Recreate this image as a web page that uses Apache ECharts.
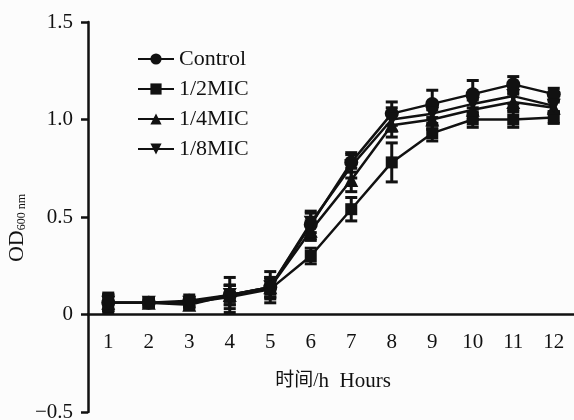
<!DOCTYPE html>
<html>
<head>
<meta charset="utf-8">
<script src="https://cdn.jsdelivr.net/npm/echarts@6/dist/echarts.min.js"></script>
<style>html,body{margin:0;padding:0;background:#fcfcfc;}#c{width:574px;height:420px;}</style>
</head>
<body>
<div id="c"></div>
<script>
var hours = ['1','2','3','4','5','6','7','8','9','10','11','12'];
var seriesNames = ['Control','1/2MIC','1/4MIC','1/8MIC'];
var control = [0.06, 0.06, 0.07, 0.10, 0.14, 0.46, 0.78, 1.03, 1.08, 1.13, 1.18, 1.13];
var half    = [0.06, 0.06, 0.06, 0.09, 0.13, 0.30, 0.54, 0.78, 0.93, 1.00, 1.00, 1.01];
var quarter = [0.06, 0.06, 0.05, 0.10, 0.14, 0.43, 0.69, 0.97, 1.00, 1.05, 1.09, 1.06];
var eighth  = [0.06, 0.06, 0.06, 0.10, 0.14, 0.47, 0.76, 1.00, 1.03, 1.08, 1.12, 1.07];
var controlErr = [0.04, 0.02, 0.03, 0.09, 0.08, 0.07, 0.05, 0.06, 0.07, 0.07, 0.04, 0.03];
var halfErr    = [0.05, 0.02, 0.02, 0.06, 0.05, 0.04, 0.06, 0.10, 0.04, 0.04, 0.04, 0.03];
var quarterErr = [0.04, 0.02, 0.02, 0.05, 0.05, 0.05, 0.06, 0.06, 0.05, 0.05, 0.04, 0.03];
var eighthErr  = [0.04, 0.02, 0.02, 0.05, 0.05, 0.05, 0.06, 0.06, 0.05, 0.05, 0.04, 0.03];
var yTicks = [-0.5, 0, 0.5, 1.0, 1.5];

var values = [control, half, quarter, eighth];
var errs = [controlErr, halfErr, quarterErr, eighthErr];
var symbols = ['circle', 'rect', 'triangle', 'triangle'];
var rotations = [0, 0, 0, 180];
var sizes = [14, 12, 14, 14];
var FONT = '"Liberation Serif", "Noto Sans CJK SC", serif';

var chart = echarts.init(document.getElementById('c'));
var series = [];
values.forEach(function (vals, si) {
  var errData = vals.map(function (v, i) { return [i, v - errs[si][i], v + errs[si][i]]; });
  series.push({
    type: 'custom',
    name: seriesNames[si] + '_err',
    data: errData,
    encode: { x: 0, y: [1, 2] },
    z: 3,
    silent: true,
    renderItem: function (params, api) {
      var lo = api.coord([api.value(0), api.value(1)]);
      var hi = api.coord([api.value(0), api.value(2)]);
      var hw = 6;
      var st = { stroke: '#111', lineWidth: 3, fill: null };
      return {
        type: 'group',
        children: [
          { type: 'line', shape: { x1: lo[0], y1: lo[1], x2: hi[0], y2: hi[1] }, style: st },
          { type: 'line', shape: { x1: lo[0] - hw, y1: lo[1], x2: lo[0] + hw, y2: lo[1] }, style: st },
          { type: 'line', shape: { x1: hi[0] - hw, y1: hi[1], x2: hi[0] + hw, y2: hi[1] }, style: st }
        ]
      };
    }
  });
  series.push({
    type: 'line',
    name: seriesNames[si],
    data: vals,
    symbol: symbols[si],
    symbolRotate: rotations[si],
    symbolSize: sizes[si],
    showAllSymbol: true,
    z: 4,
    color: '#111',
    lineStyle: { color: '#111', width: 2.5 },
    itemStyle: { color: '#111', borderWidth: 0 }
  });
});

chart.setOption({
  backgroundColor: '#fcfcfc',
  animation: false,
  grid: { left: 88, right: 0, top: 22, bottom: 8, containLabel: false, outerBoundsMode: 'none' },
  legend: {
    data: seriesNames,
    orient: 'vertical',
    left: 132,
    top: 43,
    itemWidth: 36,
    itemHeight: 14,
    itemGap: 8,
    textStyle: { fontFamily: FONT, fontSize: 22, color: '#111', padding: [0, 0, 0, 0] }
  },
  xAxis: {
    type: 'category',
    data: hours,
    boundaryGap: true,
    offset: -97.5,
    axisLine: { onZero: false, lineStyle: { color: '#111', width: 2.5 } },
    axisTick: { alignWithLabel: true, length: 8, lineStyle: { color: '#111', width: 2.5 } },
    axisLabel: { fontFamily: FONT, fontSize: 21, color: '#111', margin: 17 },
    splitLine: { show: false }
  },
  yAxis: {
    type: 'value',
    min: -0.5,
    max: 1.5,
    interval: 0.5,
    axisLine: { show: true, onZero: false, lineStyle: { color: '#111', width: 2.5 } },
    axisTick: { show: true, length: 7, lineStyle: { color: '#111', width: 2.5 } },
    axisLabel: {
      fontFamily: FONT, fontSize: 21, color: '#111', margin: 15,
      formatter: function (v) {
        if (yTicks.indexOf(v) < 0) return '';
        if (v === 0) return '0';
        return (v < 0 ? '\u2212' : '') + Math.abs(v).toFixed(1);
      }
    },
    splitLine: { show: false }
  },
  graphic: [{
    type: 'text',
    x: 333,
    y: 381,
    style: {
      text: '{c|时间/}{l|h  Hours}',
      textAlign: 'center',
      textVerticalAlign: 'middle',
      rich: {
        c: { fontFamily: FONT, fontSize: 19, fill: '#111' },
        l: { fontFamily: FONT, fontSize: 21, fill: '#111' }
      }
    }
  }, {
    type: 'text',
    x: 17,
    y: 228,
    rotation: Math.PI / 2,
    style: {
      text: '{m|OD}{s|600 nm}',
      textAlign: 'center',
      textVerticalAlign: 'middle',
      rich: {
        m: { fontFamily: FONT, fontSize: 22, fill: '#111' },
        s: { fontFamily: FONT, fontSize: 12, fill: '#111', verticalAlign: 'bottom', padding: [8, 0, 0, 0] }
      }
    }
  }],
  series: series
});
</script>
</body>
</html>
